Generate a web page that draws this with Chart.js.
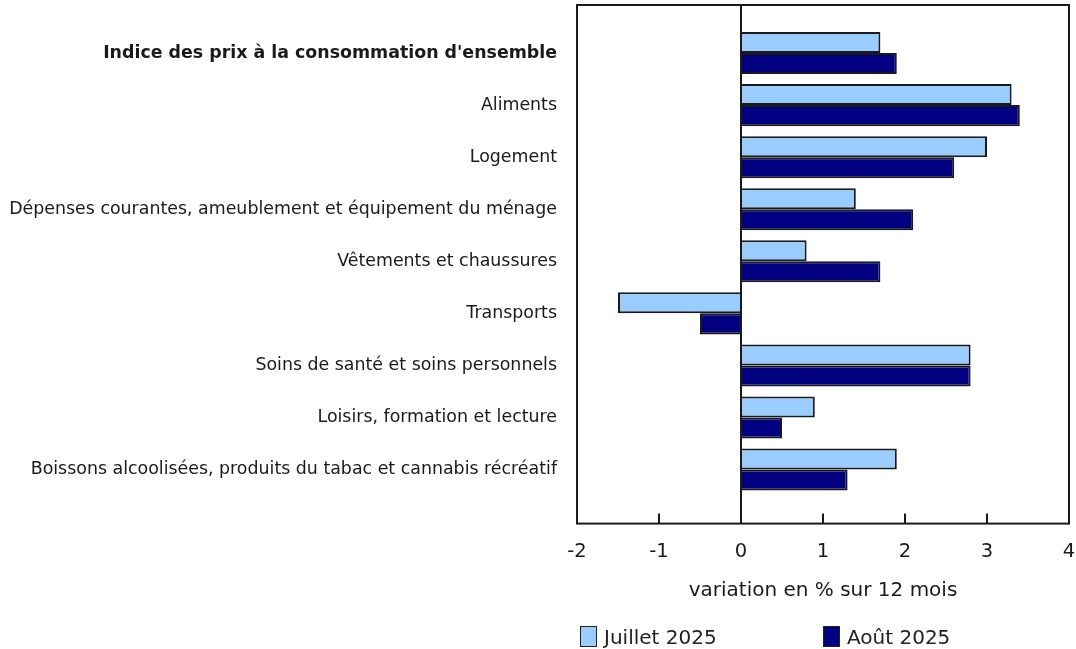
<!DOCTYPE html>
<html lang="fr">
<head>
<meta charset="utf-8">
<script src="https://cdn.jsdelivr.net/npm/chart.js@4.4.1/dist/chart.umd.min.js"></script>
<style>
  html, body { margin: 0; padding: 0; background: #fff; }
  #wrap { position: relative; width: 1076px; height: 649px; }
  #legende { position: absolute; left: 580px; top: 625px; font: 20px 'DejaVu Sans', sans-serif; color: #222; }
  #legende span.item { position: absolute; white-space: nowrap; display: flex; align-items: center; height: 23px; }
  #legende i { display: inline-block; width: 15px; height: 19px; border: 1.5px solid #222; margin-right: 7px; }
</style>
</head>
<body>
<div id="wrap">
  <canvas id="c" width="1076" height="649"></canvas>
  <div id="legende"></div>
</div>
<script>
// Donnees (variation en % sur 12 mois)
const categories = [
  "Indice des prix à la consommation d'ensemble",
  'Aliments',
  'Logement',
  'Dépenses courantes, ameublement et équipement du ménage',
  'Vêtements et chaussures',
  'Transports',
  'Soins de santé et soins personnels',
  'Loisirs, formation et lecture',
  'Boissons alcoolisées, produits du tabac et cannabis récréatif',
];
const juillet2025 = [1.7, 3.3, 3.0, 1.4, 0.8, -1.5, 2.8, 0.9, 1.9];
const aout2025 = [1.9, 3.4, 2.6, 2.1, 1.7, -0.5, 2.8, 0.5, 1.3];
const xTicks = [-2, -1, 0, 1, 2, 3, 4];
const series = [
  { label: 'Juillet 2025', data: juillet2025, color: '#99ccff' },
  { label: 'Août 2025', data: aout2025, color: '#000080' },
];

const FONT = "'DejaVu Sans', sans-serif";
const INK = '#1a1a1a';

// cadre du graphique + petites graduations vers l'interieur
const cadre = {
  id: 'cadre',
  afterDatasetsDraw(chart) {
    const { ctx, chartArea: a, scales: { x } } = chart;
    ctx.save();
    ctx.strokeStyle = INK;
    ctx.lineWidth = 2;
    ctx.strokeRect(a.left, a.top, a.right - a.left, a.bottom - a.top);
    ctx.beginPath();
    xTicks.forEach((v) => {
      const px = Math.round(x.getPixelForValue(v));
      ctx.moveTo(px, a.bottom);
      ctx.lineTo(px, a.bottom - 10);
    });
    ctx.stroke();
    ctx.restore();
  },
};

new Chart(document.getElementById('c'), {
  type: 'bar',
  data: {
    datasets: series.map((s) => ({
      label: s.label,
      data: s.data.map((v, i) => ({ x: v, y: i })),
      backgroundColor: s.color,
      borderColor: INK,
      borderWidth: 2,
      categoryPercentage: 42 / 52,
      barPercentage: 1,
    })),
  },
  options: {
    indexAxis: 'y',
    responsive: false,
    animation: false,
    layout: { padding: { top: 5, right: 7, left: 0, bottom: 46 } },
    plugins: { legend: { display: false }, tooltip: { enabled: false } },
    scales: {
      x: {
        type: 'linear', min: -2, max: 4,
        afterBuildTicks: (s) => { s.ticks = xTicks.map((v) => ({ value: v })); },
        afterFit: (s) => { s.paddingLeft = 0; s.paddingRight = 0; },
        grid: {
          drawTicks: false,
          color: (c) => (c.tick && c.tick.value === 0 ? INK : 'transparent'),
          lineWidth: 2,
        },
        border: { display: false },
        ticks: { color: INK, padding: 17, maxRotation: 0, font: { family: FONT, size: 19.5 } },
        title: {
          display: true, text: 'variation en % sur 12 mois', color: INK,
          font: { family: FONT, size: 20 }, padding: { top: -2, bottom: 0 },
        },
      },
      y: {
        type: 'linear', reverse: true, offset: false, min: -0.923, max: 9.038,
        afterBuildTicks: (s) => { s.ticks = categories.map((_, i) => ({ value: i })); },
        afterFit: (s) => { s.width = 577; s.paddingTop = 0; s.paddingBottom = 0; },
        grid: { display: false, drawTicks: false },
        border: { display: false },
        ticks: {
          color: INK, padding: 20, autoSkip: false,
          callback: (v) => categories[v] ?? '',
          font: (c) => ({ family: FONT, size: 17.4, weight: c.index === 0 ? 'bold' : 'normal' }),
        },
      },
    },
  },
  plugins: [cadre],
});

// legende sous le graphique
const leg = document.getElementById('legende');
series.forEach((s, i) => {
  const el = document.createElement('span');
  el.className = 'item';
  el.style.left = (i * 243) + 'px';
  el.innerHTML = `<i style="background:${s.color}"></i>${s.label}`;
  leg.appendChild(el);
});
</script>
</body>
</html>
